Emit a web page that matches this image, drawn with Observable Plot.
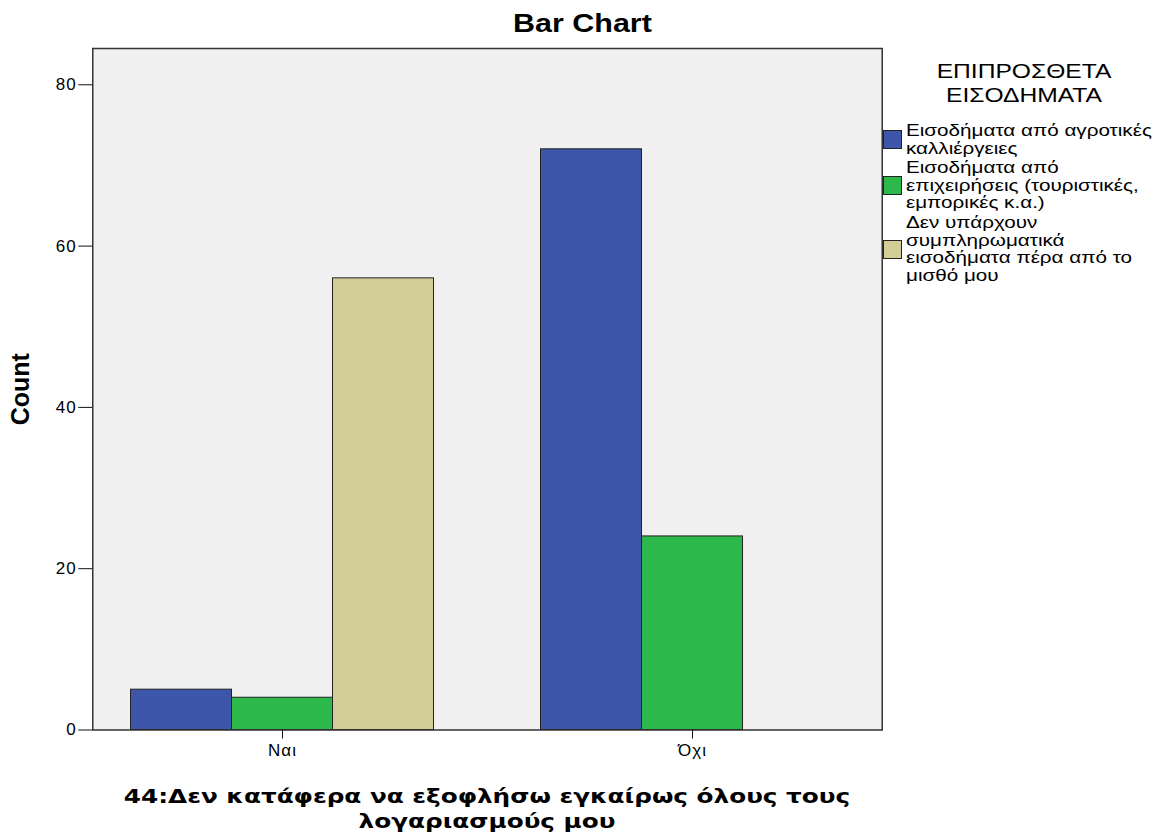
<!DOCTYPE html>
<html>
<head>
<meta charset="utf-8">
<script src="https://cdn.jsdelivr.net/npm/d3@7"></script>
<script src="https://cdn.jsdelivr.net/npm/@observablehq/plot@0.6"></script>
<style>
  html, body { margin: 0; padding: 0; background: #fff; }
  #wrap { position: relative; width: 1165px; height: 835px; overflow: hidden; font-family: "Liberation Sans", Arial, sans-serif; color: #000; }
  #title { position: absolute; left: 0; top: 10px; width: 1165px; text-align: center; font-weight: bold; font-size: 25px; line-height: 26px; transform: scaleX(1.218); transform-origin: 582.5px 0; }
  #chart { position: absolute; left: 0; top: 47px; }
  #xtitle { position: absolute; left: 92px; width: 790px; top: 784px; text-align: center; font-family: "DejaVu Sans", sans-serif; font-weight: bold; font-size: 20px; line-height: 25px; white-space: pre; transform: scaleX(1.235); transform-origin: 395px 0; }
  #legend { position: absolute; left: 883px; top: 60px; width: 282px; }
  #legend .lt { text-align: center; font-size: 20px; line-height: 23.5px; margin-bottom: 15px; white-space: pre; transform: scaleX(1.23); transform-origin: 141px 0; }
  #legend .item { display: flex; align-items: center; margin-bottom: 2px; }
  #legend .sw { width: 17px; height: 17px; border: 1px solid #222; flex: none; margin-right: 4px; }
  #legend .tx { font-size: 17px; line-height: 17.6px; white-space: pre; transform: scaleX(1.215); transform-origin: 0 0; }
  #chart svg g[aria-label="y-axis tick label"] text, #chart svg g[aria-label="fx-axis tick label"] text { letter-spacing: 1px; }
  #chart svg g[aria-label="y-axis label"] text { font-size: 25px; font-weight: bold; }
</style>
</head>
<body>
<div id="wrap">
  <div id="title"></div>
  <div id="chart"></div>
  <div id="xtitle"></div>
  <div id="legend"></div>
</div>
<script>
const chartTitle = "Bar Chart";
const xTitle = "44:Δεν κατάφερα να εξοφλήσω εγκαίρως όλους τους\nλογαριασμούς μου";
const yTitle = "Count";
const legendTitle = "ΕΠΙΠΡΟΣΘΕΤΑ\nΕΙΣΟΔΗΜΑΤΑ";
const categories = ["Ναι", "Όχι"];
const series = [
  "Εισοδήματα από αγροτικές\nκαλλιέργειες",
  "Εισοδήματα από\nεπιχειρήσεις (τουριστικές,\nεμπορικές κ.α.)",
  "Δεν υπάρχουν\nσυμπληρωματικά\nεισοδήματα πέρα από το\nμισθό μου"
];
const colors = ["#3d56a9", "#2db84b", "#d3ce98"];
const countsNai = [5, 4, 56];
const countsOchi = [72, 24, null];
const yTicks = [0, 20, 40, 60, 80];

const counts = [countsNai, countsOchi];
const data = categories.flatMap((c, i) =>
  series.map((s, j) => ({category: c, series: s, count: counts[i][j]}))
).filter(d => d.count != null);

document.getElementById("title").textContent = chartTitle;
document.getElementById("xtitle").textContent = xTitle;

const legend = document.getElementById("legend");
const lt = document.createElement("div");
lt.className = "lt";
lt.textContent = legendTitle;
legend.appendChild(lt);
series.forEach((s, i) => {
  const item = document.createElement("div");
  item.className = "item";
  const sw = document.createElement("div");
  sw.className = "sw";
  sw.style.background = colors[i];
  const tx = document.createElement("div");
  tx.className = "tx";
  tx.textContent = s;
  item.appendChild(sw);
  item.appendChild(tx);
  legend.appendChild(item);
});

// layout
const W = 1165, H = 728;
const mL = 92.5, mR = 283, mT = 1, mB = 45.5;
const padIn = 0.259, padOut = 0.092;
const plotW = W - mL - mR;
const step = plotW / (categories.length - padIn + 2 * padOut);
const outerOffset = padOut * step; // distance from plot edge to first/last facet

const chart = Plot.plot({
  width: W,
  height: H,
  marginLeft: mL,
  marginRight: mR,
  marginTop: mT,
  marginBottom: mB,
  style: {fontFamily: "'Liberation Sans', Arial, sans-serif", fontSize: "17px", color: "#000", background: "transparent"},
  fx: {domain: categories, paddingInner: padIn, paddingOuter: padOut, label: null},
  x: {domain: series, padding: 0, axis: null},
  y: {domain: [0, 84.5], label: null},
  color: {domain: series, range: colors},
  marks: [
    Plot.frame({fill: "#f0f0f0", facet: "super", insetLeft: -outerOffset, insetRight: -outerOffset}),
    Plot.barY(data, {fx: "category", x: "series", y: "count", fill: "series", stroke: "#222", strokeWidth: 1}),
    Plot.frame({stroke: "#333", strokeWidth: 1.5, facet: "super", insetLeft: -outerOffset, insetRight: -outerOffset}),
    Plot.axisY({ticks: yTicks, tickSize: 14, tickPadding: 2, fontSize: 17, label: yTitle, labelAnchor: "center", labelArrow: "none", labelOffset: outerOffset + mL - 11, dx: -outerOffset, stroke: "#111"}),
    Plot.axisFx({anchor: "bottom", tickSize: 9, tickPadding: 5, fontSize: 17, label: null, stroke: "#111"})
  ]
});
document.getElementById("chart").appendChild(chart);
</script>
</body>
</html>
